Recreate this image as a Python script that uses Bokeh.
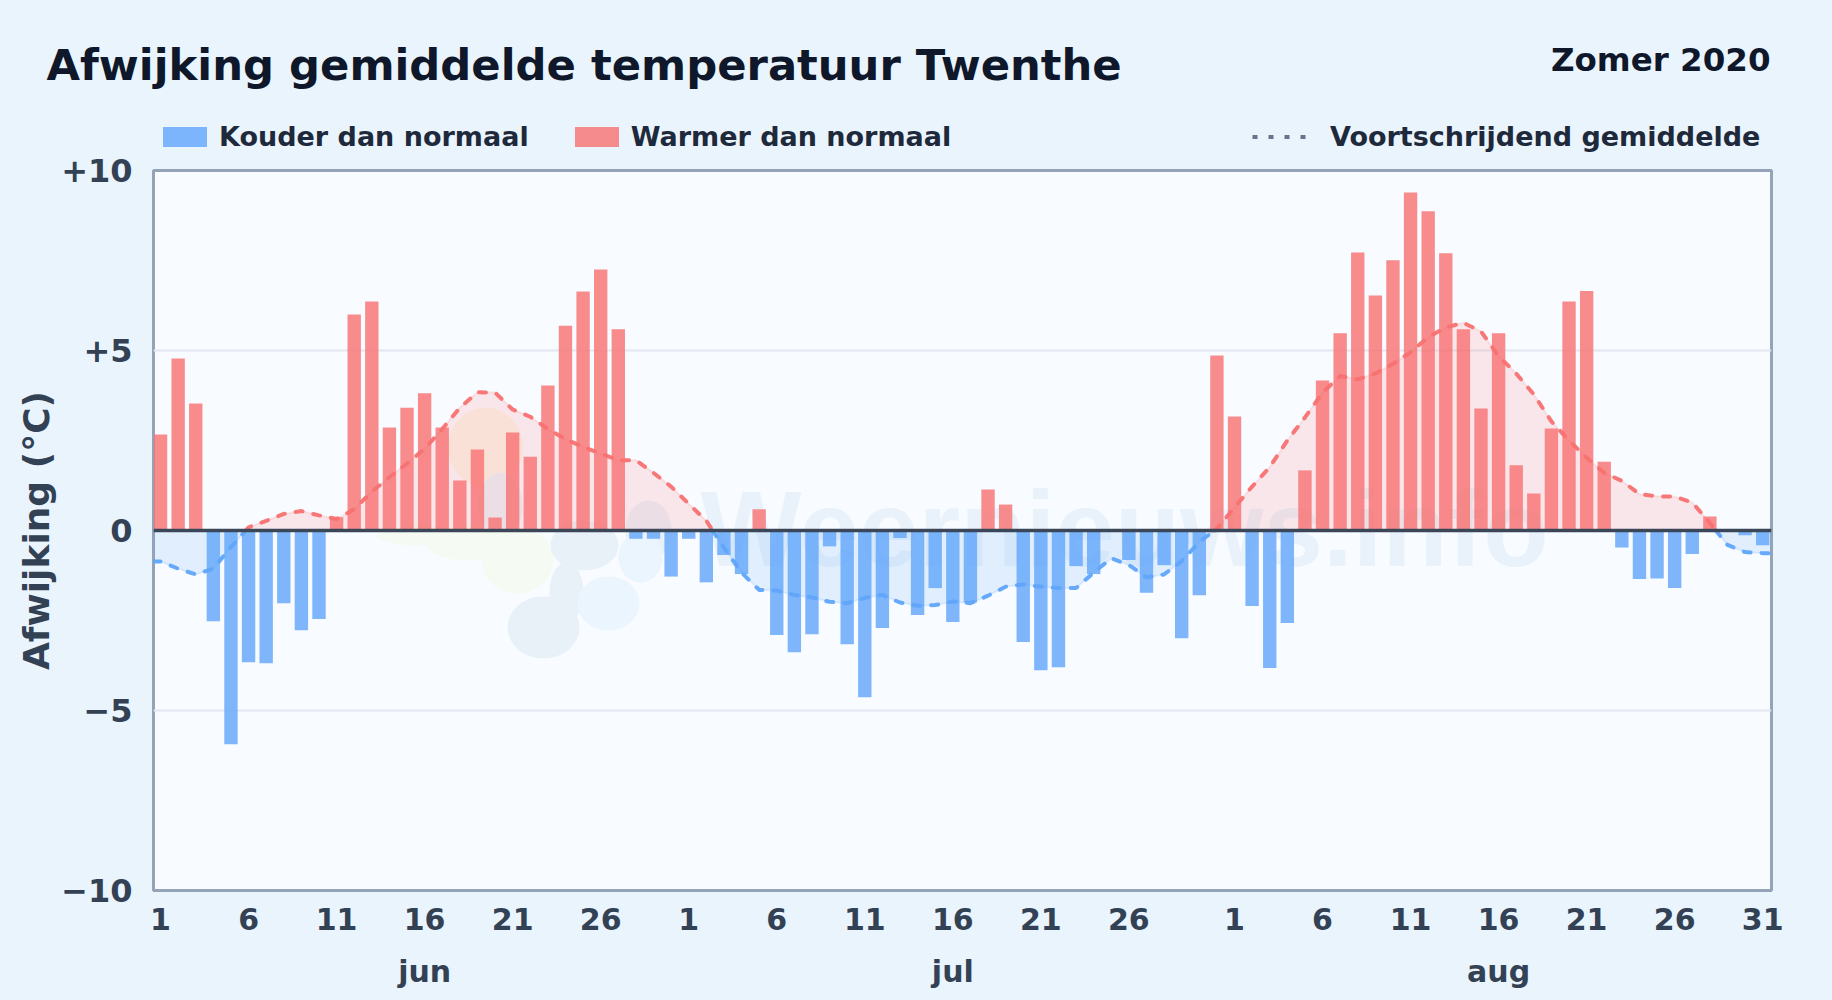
import numpy as np
from bokeh.embed import file_html
from bokeh.layouts import column
from bokeh.resources import INLINE
from bokeh.plotting import figure
from bokeh.models import (FixedTicker, LinearAxis, Label, Legend, LegendItem, Range1d, Span)
from bokeh.core.properties import value

# ---- data -------------------------------------------------------------
jun = [2.67, 4.78, 3.53, -2.52, -5.94, -3.66, -3.69, -2.02, -2.77, -2.46,
       0.37, 6.00, 6.36, 2.86, 3.41, 3.81, 2.86, 1.39, 2.25, 0.36,
       2.72, 2.05, 4.03, 5.69, 6.64, 7.25, 5.59, -0.23, -0.23, -1.28]
jul = [-0.23, -1.44, -0.68, -1.21, 0.59, -2.90, -3.38, -2.88, -0.44, -3.16,
       -4.63, -2.71, -0.21, -2.35, -1.60, -2.54, -2.00, 1.14, 0.72, -3.10,
       -3.88, -3.80, -0.99, -1.21, 0.0, -0.82, -1.73, -0.96, -2.99, -1.80, 4.86]
aug = [3.17, -2.10, -3.82, -2.57, 1.67, 4.17, 5.48, 7.72, 6.53, 7.51,
       9.39, 8.87, 7.70, 5.59, 3.39, 5.48, 1.81, 1.03, 2.83, 6.36,
       6.65, 1.91, -0.47, -1.35, -1.33, -1.60, -0.65, 0.39, 0.0, -0.13, -0.41]
moving_avg = [-0.86, -1.06, -1.22, -1.06, -0.46, 0.09, 0.27, 0.46, 0.54, 0.42,
              0.32, 0.59, 1.08, 1.48, 1.86, 2.27, 2.82, 3.41, 3.84, 3.83,
              3.36, 3.16, 2.82, 2.54, 2.32, 2.14, 1.95, 1.95, 1.60, 1.22,
              0.74, 0.27, -0.48, -1.17, -1.65, -1.67, -1.79, -1.86, -1.98, -2.02,
              -1.87, -1.79, -2.00, -2.09, -2.07, -1.97, -2.02, -1.81, -1.56, -1.50,
              -1.56, -1.60, -1.60, -1.17, -0.77, -0.96, -1.30, -1.22, -0.85, -0.32,
              0.05, 0.64, 1.22, 1.76, 2.50, 3.14, 3.83, 4.29, 4.20, 4.36,
              4.63, 4.95, 5.37, 5.64, 5.77, 5.53, 4.84, 4.36, 3.78, 3.03,
              2.50, 2.02, 1.60, 1.38, 1.01, 0.95, 0.94, 0.78, 0.21, -0.40,
              -0.60, -0.63]
day_tick_idx = [0, 5, 10, 15, 20, 25, 30, 35, 40, 45, 50, 55, 61, 66, 71, 76, 81, 86, 91]
day_tick_lbl = ["1", "6", "11", "16", "21", "26", "1", "6", "11", "16", "21", "26",
                "1", "6", "11", "16", "21", "26", "31"]
month_idx = [15, 45, 76]
month_lbl = ["jun", "jul", "aug"]
y_ticks = [10, 5, 0, -5, -10]
y_lbl = ["+10", "+5", "0", "\u22125", "\u221210"]

# ---- style ------------------------------------------------------------
BG = "#eaf4fc"
PLOT_BG = "#f8fbff"
BLUE = "#60a5fa"
RED = "#f87171"
TXT = "#334155"
FONT = "DejaVu Sans"
W, H_HEAD, H_MAIN = 1832, 153, 847
L, R, T, B = 153, 61, 17, 110
FRAME_BOTTOM_PAGE = H_HEAD + H_MAIN - B
X0 = 0.1

values = np.array(jun + jul + aug, dtype=float)
centers = np.arange(len(values)) + 0.5

# ---- header: title, subtitle and legends ------------------------------
head = figure(width=W, height=H_HEAD, output_backend="svg", toolbar_location=None,
              x_range=Range1d(0, W), y_range=Range1d(H_HEAD, 0), frame_align=False,
              min_border=0, background_fill_color=BG, border_fill_color=BG,
              outline_line_color=None)
head.axis.visible = False
head.grid.visible = False
head.add_layout(Label(x=46, y=64, text="Afwijking gemiddelde temperatuur Twenthe", text_font=FONT,
                      text_font_style="bold", text_font_size="43.3px", text_color="#0f172a",
                      text_baseline="middle", text_align="left"))
head.add_layout(Label(x=1770, y=59, text="Zomer 2020", text_font=FONT, text_font_style="bold",
                      text_font_size="32.5px", text_color="#0f172a",
                      text_baseline="middle", text_align="right"))
# key-only renderers: their one point lies outside the header's ranges
r_blue_key = head.vbar(x=[-500], top=[-500], width=1, fill_color=BLUE, fill_alpha=0.8, line_color=None)
r_red_key = head.vbar(x=[-500], top=[-500], width=1, fill_color=RED, fill_alpha=0.8, line_color=None)
r_ma_key = head.line(x=[-500, -400], y=[-500, -500], line_color="#64748b", line_width=4, line_dash="5 11")

def make_legend(items, x, y, glyph_w, glyph_h, standoff, spacing=40):
    return Legend(items=items, orientation="horizontal", location=(x, y),
                  background_fill_alpha=0, border_line_color=None,
                  margin=0, padding=0, spacing=spacing, label_standoff=standoff,
                  glyph_width=glyph_w, glyph_height=glyph_h, label_height=glyph_h,
                  label_text_font=FONT, label_text_font_style="bold",
                  label_text_font_size="27px", label_text_color="#1e293b",
                  click_policy="none")

head.add_layout(make_legend([LegendItem(label="Kouder dan normaal", renderers=[r_blue_key]),
                             LegendItem(label="Warmer dan normaal", renderers=[r_red_key])],
                            157, 1, 55, 25, 7))
head.add_layout(make_legend([LegendItem(label="Voortschrijdend gemiddelde", renderers=[r_ma_key])],
                            1252, 1, 55, 25, 23))

# ---- main plot --------------------------------------------------------
p = figure(width=W, height=H_MAIN, output_backend="svg", toolbar_location=None,
           x_range=Range1d(X0, len(values)), y_range=Range1d(-10, 10), frame_align=False,
           min_border_left=L, min_border_right=R, min_border_top=T, min_border_bottom=B,
           background_fill_color=PLOT_BG, border_fill_color=BG,
           outline_line_color="#94a3b8", outline_line_width=3)

PX = (W - L - R) / (len(values) - X0)
PY = (H_MAIN - T - B) / 20.0
def dx(px): return (px - L) / PX + X0
def dy(py): return (FRAME_BOTTOM_PAGE - py) / PY - 10

# ---- watermark --------------------------------------------------------
blobs = [  # page px: cx, cy, w, h, colour
    (485, 447, 75, 80, "#fbf5ea"), (500, 505, 44, 66, "#e9f1f8"),
    (648, 530, 46, 60, "#e9f1f8"),
    (420, 535, 90, 20, "#f5faf2"), (470, 543, 90, 34, "#f5faf2"),
    (517, 560, 72, 66, "#f5faf2"),
    (584, 545, 68, 50, "#e9f1f8"), (566, 592, 34, 60, "#e9f1f8"),
    (543, 627, 72, 62, "#e9f1f8"),
    (608, 603, 62, 54, "#eaf5fd"), (640, 557, 44, 50, "#eaf5fd"),
]
p.ellipse(x=[dx(b[0]) for b in blobs], y=[dy(b[1]) for b in blobs],
          width=[b[2] / PX for b in blobs], height=[b[3] / PY for b in blobs],
          fill_color=[b[4] for b in blobs], line_color=None)
p.text(x=[dx(700)], y=[dy(528)], text=["Weernieuws.info"], text_font=value("Liberation Sans"),
       text_font_style="bold", text_font_size="107px", text_color="#e9f2fb",
       text_baseline="alphabetic", text_align="left")

# ---- axes and grid ----------------------------------------------------
ya = p.yaxis[0]
ya.ticker = FixedTicker(ticks=y_ticks)
ya.major_label_overrides = {t: s for t, s in zip(y_ticks, y_lbl)}
ya.axis_label = "Afwijking (\u00b0C)"
ya.axis_label_text_font = FONT
ya.axis_label_text_font_style = "bold"
ya.axis_label_text_font_size = "36px"
ya.axis_label_text_color = TXT
ya.axis_label_standoff = 1
ya.major_label_text_font = FONT
ya.major_label_text_font_style = "bold"
ya.major_label_text_font_size = "32px"
ya.major_label_text_color = TXT
ya.major_label_standoff = 15
ya.axis_line_color = None
ya.major_tick_line_color = None
ya.minor_tick_line_color = None

xa = p.xaxis[0]
xa.ticker = FixedTicker(ticks=[i + 0.5 for i in day_tick_idx])
xa.major_label_overrides = {i + 0.5: s for i, s in zip(day_tick_idx, day_tick_lbl)}
xa.major_label_text_font = FONT
xa.major_label_text_font_style = "bold"
xa.major_label_text_font_size = "30px"
xa.major_label_text_color = TXT
xa.major_label_standoff = 11
xa.axis_line_color = None
xa.major_tick_line_color = None
xa.minor_tick_line_color = None

ma = LinearAxis(ticker=FixedTicker(ticks=[i + 0.5 for i in month_idx]))
ma.major_label_overrides = {i + 0.5: s for i, s in zip(month_idx, month_lbl)}
ma.major_label_text_font = FONT
ma.major_label_text_font_style = "bold"
ma.major_label_text_font_size = "30px"
ma.major_label_text_color = TXT
ma.major_label_standoff = 15
ma.axis_line_color = None
ma.major_tick_line_color = None
ma.minor_tick_line_color = None
p.add_layout(ma, "below")

p.xgrid.visible = False
p.ygrid.ticker = FixedTicker(ticks=[-5, 5])
p.ygrid.grid_line_color = "#e2e8f0"
p.ygrid.grid_line_width = 2

# ---- moving average area (below bars) ---------------------------------
xs = [X0] + list(centers) + [float(len(values))]
ys = [moving_avg[0]] + moving_avg + [moving_avg[-1]]
xx, yy = [xs[0]], [ys[0]]
runs, cur_x, cur_y = [], [xs[0]], [ys[0]]
for k in range(1, len(xs)):
    if ys[k - 1] * ys[k] < 0:
        t = ys[k - 1] / (ys[k - 1] - ys[k])
        xc = xs[k - 1] + t * (xs[k] - xs[k - 1])
        xx.append(xc); yy.append(0.0)
        cur_x.append(xc); cur_y.append(0.0)
        runs.append((cur_x, cur_y))
        cur_x, cur_y = [xc], [0.0]
    xx.append(xs[k]); yy.append(ys[k])
    cur_x.append(xs[k]); cur_y.append(ys[k])
runs.append((cur_x, cur_y))
xx, yy = np.array(xx), np.array(yy)
zero = np.zeros_like(yy)
p.varea(x=xx, y1=zero, y2=np.maximum(yy, 0), fill_color=RED, fill_alpha=0.15)
p.varea(x=xx, y1=zero, y2=np.minimum(yy, 0), fill_color=BLUE, fill_alpha=0.15)

# ---- bars -------------------------------------------------------------
neg = values < 0
pos = values > 0
p.vbar(x=centers[neg], top=values[neg], bottom=0, width=0.76,
       fill_color=BLUE, fill_alpha=0.8, line_color=None)
p.vbar(x=centers[pos], top=values[pos], bottom=0, width=0.76,
       fill_color=RED, fill_alpha=0.8, line_color=None)

# ---- moving average line ----------------------------------------------
run_col = [RED if max(r[1]) > 0 else BLUE for r in runs]
run_xs = [r[0] for r in runs]
run_ys = [r[1] for r in runs]
p.multi_line(xs=run_xs, ys=run_ys, line_color=run_col, line_width=2, line_alpha=0.15)
p.multi_line(xs=run_xs, ys=run_ys, line_color=run_col, line_width=4, line_alpha=0.95,
             line_dash="7 11", line_cap="round", line_join="round")

p.add_layout(Span(location=0, dimension="width", line_color="#3b4759", line_width=3.5))

html = file_html(column(head, p, spacing=0), INLINE)
html = html.replace("</head>", "<style>html,body{background:%s}</style></head>" % BG, 1)
open("out.html", "w").write(html)
